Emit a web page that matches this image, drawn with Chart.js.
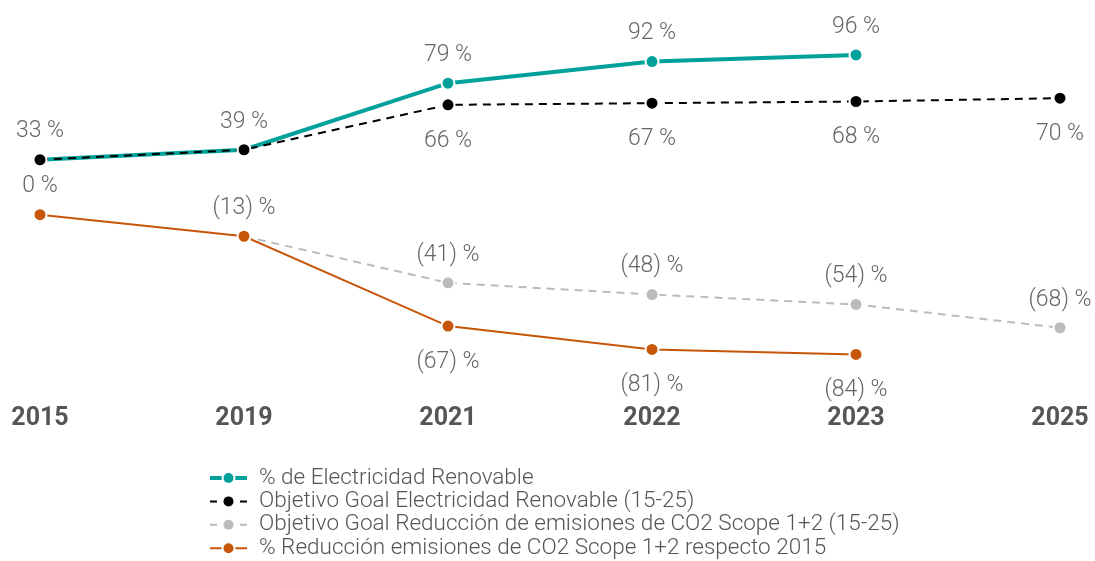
<!DOCTYPE html>
<html>
<head>
<meta charset="utf-8">
<script src="https://cdn.jsdelivr.net/npm/chart.js@4.4.1/dist/chart.umd.min.js"></script>
<style>
  html, body { margin: 0; padding: 0; background: #fff; }
  #wrap { width: 1095px; height: 561px; position: relative; }
</style>
</head>
<body>
<div id="wrap"><canvas id="chart"></canvas></div>
<script>
// Data
const years = ['2015', '2019', '2021', '2022', '2023', '2025'];
const renewable = [33, 39, 79, 92, 96, null];
const renewableGoal = [33, 39, 66, 67, 68, 70];
const co2Goal = [null, -13, -41, -48, -54, -68];
const co2Reduction = [0, -13, -67, -81, -84, null];

const seriesNames = [
    '% de Electricidad Renovable',
    'Objetivo Goal Electricidad Renovable (15-25)',
    'Objetivo Goal Reducción de emisiones de CO2 Scope 1+2 (15-25)',
    '% Reducción emisiones de CO2 Scope 1+2 respecto 2015'
];

// where each value label goes: 't' above, 'b' below, '' none
const labelPlacement = [
    ['t', 't', 't', 't', 't', ''],
    ['', '', 'b', 'b', 'b', 'b'],
    ['', '', 't', 't', 't', 't'],
    ['t', 't', 'b', 'b', 'b', '']
];

const fmt = (v) => v < 0 ? '(' + Math.abs(v) + ') %' : v + ' %';

const valueLabels = {
    id: 'valueLabels',
    afterDatasetsDraw(chart) {
        const ctx = chart.ctx;
        ctx.save();
        ctx.font = '300 23px Roboto';
        ctx.fillStyle = '#666';
        ctx.textAlign = 'center';
        ctx.textBaseline = 'middle';
        chart.data.datasets.forEach((ds, i) => {
            const meta = chart.getDatasetMeta(i);
            meta.data.forEach((pt, j) => {
                const where = labelPlacement[i][j];
                if (!where || ds.data[j] == null) return;
                const dy = where === 't' ? -28 : 36;
                ctx.fillText(fmt(ds.data[j]), pt.x, pt.y + dy);
            });
        });
        ctx.restore();
    }
};

const customLegend = {
    id: 'customLegend',
    afterDraw(chart) {
        const ctx = chart.ctx;
        const x0 = 210, y0 = 478, step = 23.4;
        ctx.save();
        seriesNames.forEach((name, i) => {
            const ds = chart.data.datasets[i];
            const y = y0 + i * step;
            ctx.strokeStyle = ds.borderColor;
            ctx.lineWidth = ds.borderWidth === 4 ? 4 : 2;
            if (ds.borderDash) {
                ctx.beginPath();
                ctx.moveTo(x0, y); ctx.lineTo(x0 + 7, y);
                ctx.moveTo(x0 + 30, y); ctx.lineTo(x0 + 37, y);
                ctx.stroke();
            } else {
                ctx.beginPath();
                ctx.moveTo(x0, y); ctx.lineTo(x0 + 37, y);
                ctx.stroke();
            }
            ctx.fillStyle = '#fff';
            ctx.beginPath(); ctx.arc(x0 + 18.5, y, 7, 0, Math.PI * 2); ctx.fill();
            ctx.fillStyle = ds.pointBackgroundColor;
            ctx.beginPath(); ctx.arc(x0 + 18.5, y, 5, 0, Math.PI * 2); ctx.fill();
            ctx.font = '300 22.5px Roboto';
            ctx.fillStyle = '#555';
            ctx.textAlign = 'left';
            ctx.textBaseline = 'middle';
            ctx.fillText(name, x0 + 49, y);
        });
        ctx.restore();
    }
};

const makeSet = (label, data, color, width, dash, order) => ({
    label: label,
    data: data,
    borderColor: color,
    backgroundColor: color,
    pointBackgroundColor: color,
    pointBorderColor: '#fff',
    pointBorderWidth: 2,
    pointRadius: 6.5,
    borderWidth: width,
    borderDash: dash,
    tension: 0,
    spanGaps: false,
    order: order
});

new Chart(document.getElementById('chart'), {
    type: 'line',
    data: {
        labels: years,
        datasets: [
            makeSet(seriesNames[0], renewable, '#00A19B', 4, undefined, 1),
            makeSet(seriesNames[1], renewableGoal, '#000000', 2, [8, 6], 0),
            makeSet(seriesNames[2], co2Goal, '#BBBBBB', 2, [8, 6], 3),
            makeSet(seriesNames[3], co2Reduction, '#C8560A', 2, undefined, 2)
        ]
    },
    options: {
        responsive: true,
        maintainAspectRatio: false,
        animation: false,
        layout: { padding: { left: 40, right: 35, top: 15, bottom: 120 } },
        plugins: {
            legend: { display: false },
            tooltip: { enabled: false }
        },
        scales: {
            x: {
                offset: false,
                grid: { display: false },
                border: { display: false },
                ticks: {
                    color: '#555',
                    padding: 15,
                    font: { family: 'Roboto', weight: 'bold', size: 25 }
                },
                afterFit(scale) {
                    scale.height = 60;
                    scale.paddingLeft = 0;
                    scale.paddingRight = 0;
                }
            },
            y: {
                display: false,
                min: -100,
                max: 120
            }
        }
    },
    plugins: [valueLabels, customLegend]
});
</script>
</body>
</html>
